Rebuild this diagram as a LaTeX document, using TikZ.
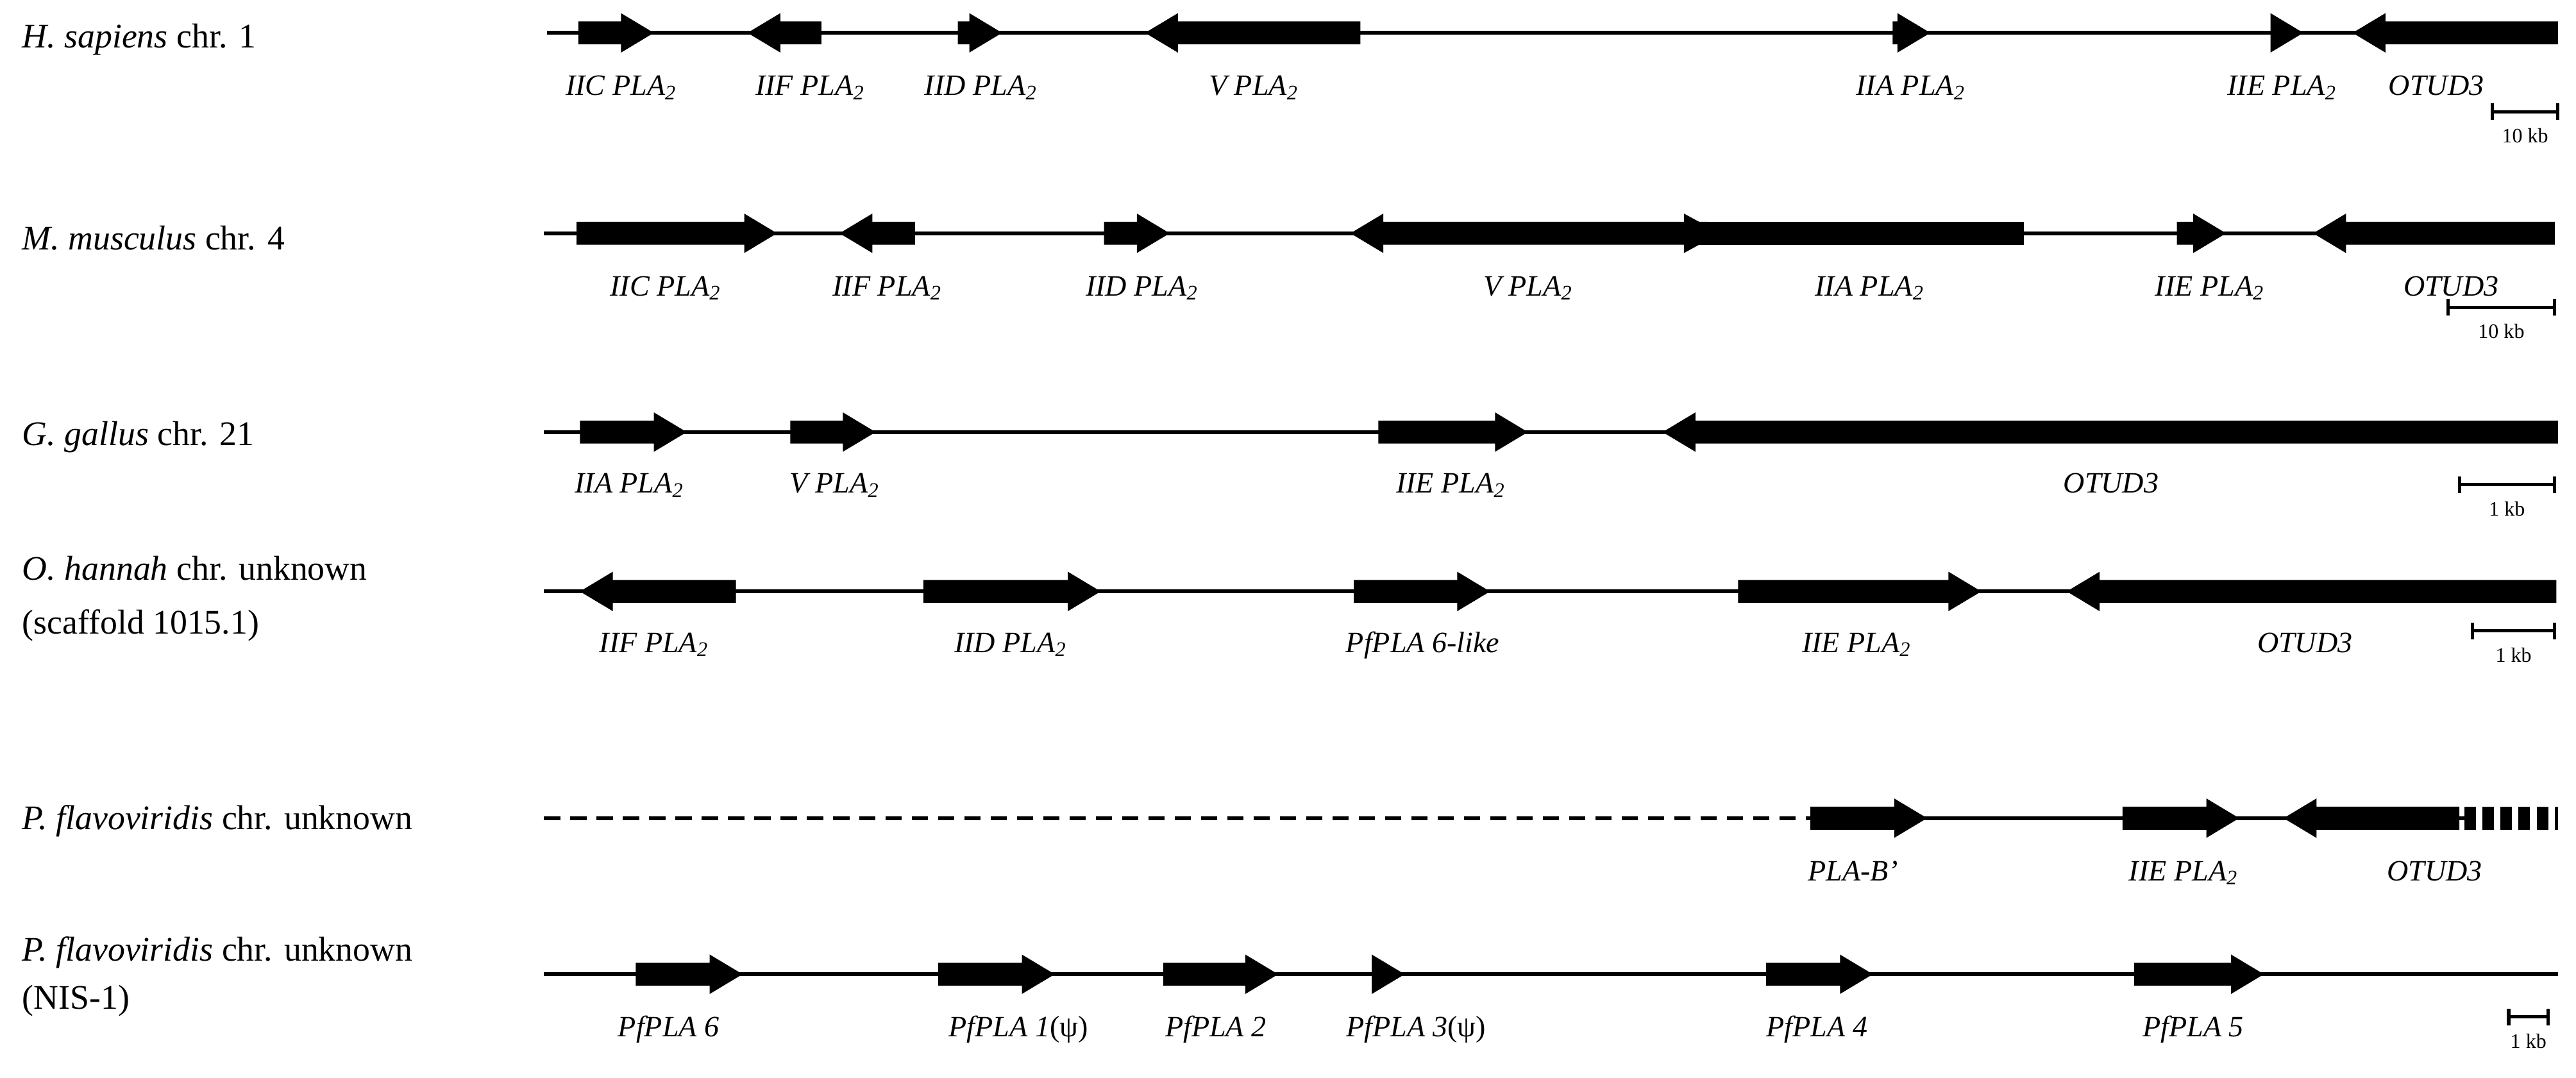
\documentclass[tikz,border=0pt]{standalone}
\usepackage{fontspec}
\setmainfont{Liberation Serif}
\begin{document}
\begin{tikzpicture}[x=1pt,y=-1pt,
  chrom/.style={line width=2.4pt},
  gl/.style={font=\fontsize{18}{19}\selectfont\itshape, anchor=base},
  sp/.style={font=\fontsize{21}{23}\selectfont, anchor=base west},
  sb/.style={font=\fontsize{12.5}{13}\selectfont, anchor=base}]
\useasboundingbox (0,0) rectangle (1568,656);
\newcommand{\gR}[3]{\ifdim\dimexpr#2pt-#1pt\relax>21pt
  \fill (#1,#3-7) -- (#2-20,#3-7) -- (#2-20,#3-12) -- (#2,#3) -- (#2-20,#3+12) -- (#2-20,#3+7) -- (#1,#3+7) -- cycle;
  \else \fill (#1,#3-12) -- (#2,#3) -- (#1,#3+12) -- cycle; \fi}
\newcommand{\gL}[3]{\fill (#2,#3-7) -- (#1+20,#3-7) -- (#1+20,#3-12) -- (#1,#3) -- (#1+20,#3+12) -- (#1+20,#3+7) -- (#2,#3+7) -- cycle;}
\newcommand{\sbar}[4]{\draw[line width=2pt] (#1,#3-5) -- (#1,#3+5) (#1,#3) -- (#2,#3) (#2,#3-5) -- (#2,#3+5);
  \node[sb] at ({(#1+#2)/2},#3+19) {#4};}
\newcommand{\pl}{PLA\textsubscript{2}}
% Row 1
\node[sp] at (10,29) {\textit{H. sapiens} chr. 1};
\draw[chrom] (333,20) -- (1557,20);
\gR{352}{398}{20}\gL{455}{500}{20}\gR{583}{610}{20}\gL{697}{828}{20}\gR{1152}{1175}{20}\gR{1382}{1402}{20}\gL{1432}{1557}{20}
\node[gl] at (378,58) {IIC \pl};\node[gl] at (493,58) {IIF \pl};\node[gl] at (597,58) {IID \pl};
\node[gl] at (763,58) {V \pl};\node[gl] at (1163,58) {IIA \pl};\node[gl] at (1389,58) {IIE \pl};\node[gl] at (1483,58) {OTUD3};
\sbar{1517}{1557}{68}{10 kb}
% Row 2
\node[sp] at (10,152) {\textit{M. musculus} chr. 4};
\draw[chrom] (331,142) -- (1555,142);
\gR{351}{473}{142}\gL{511}{557}{142}\gR{672}{712}{142}\gL{822}{1040}{142}
\fill (1030,135) rectangle (1232,149);
\fill (1025,130) -- (1047,142) -- (1025,154) -- cycle;
\gR{1325}{1355}{142}\gL{1408}{1555}{142}
\node[gl] at (405,180) {IIC \pl};\node[gl] at (540,180) {IIF \pl};\node[gl] at (695,180) {IID \pl};
\node[gl] at (930,180) {V \pl};\node[gl] at (1138,180) {IIA \pl};\node[gl] at (1345,180) {IIE \pl};\node[gl] at (1492,180) {OTUD3};
\sbar{1490}{1555}{187}{10 kb}
% Row 3
\node[sp] at (10,271) {\textit{G. gallus} chr. 21};
\draw[chrom] (331,263) -- (1557,263);
\gR{353}{418}{263}\gR{481}{533}{263}\gR{839}{930}{263}\gL{1012}{1557}{263}
\node[gl] at (383,300) {IIA \pl};\node[gl] at (508,300) {V \pl};\node[gl] at (883,300) {IIE \pl};\node[gl] at (1285,300) {OTUD3};
\sbar{1497}{1555}{295}{1 kb}
% Row 4
\node[sp] at (10,353) {\textit{O. hannah} chr. unknown};
\node[sp] at (10,386) {(scaffold 1015.1)};
\draw[chrom] (331,360) -- (1556,360);
\gL{353}{448}{360}\gR{562}{670}{360}\gR{824}{907}{360}\gR{1058}{1206}{360}\gL{1258}{1556}{360}
\node[gl] at (398,397) {IIF \pl};\node[gl] at (615,397) {IID \pl};\node[gl] at (866,397) {PfPLA 6-like};
\node[gl] at (1130,397) {IIE \pl};\node[gl] at (1403,397) {OTUD3};
\sbar{1505}{1555}{384}{1 kb}
% Row 5
\node[sp] at (10,505) {\textit{P. flavoviridis} chr. unknown};
\draw[chrom, dash pattern=on 10pt off 6pt] (331,498) -- (1100,498);
\draw[chrom] (1100,498) -- (1500,498);
\gR{1102}{1173}{498}\gR{1292}{1363}{498}\gL{1390}{1497}{498}
\draw[line width=14pt, dash pattern=on 7pt off 4pt] (1500,498) -- (1557,498);
\node[gl] at (1128,536) {PLA-B'};\node[gl] at (1329,536) {IIE \pl};\node[gl] at (1482,536) {OTUD3};
% Row 6
\node[sp] at (10,585) {\textit{P. flavoviridis} chr. unknown};
\node[sp] at (10,614) {(NIS-1)};
\draw[chrom] (331,593) -- (1557,593);
\gR{387}{452}{593}\gR{571}{642}{593}\gR{708}{778}{593}\gR{835}{855}{593}\gR{1075}{1140}{593}\gR{1299}{1378}{593}
\node[gl] at (407,631) {PfPLA 6};\node[gl] at (620,631) {PfPLA 1\upshape(ψ)};\node[gl] at (740,631) {PfPLA 2};
\node[gl] at (862,631) {PfPLA 3\upshape(ψ)};\node[gl] at (1106,631) {PfPLA 4};\node[gl] at (1335,631) {PfPLA 5};
\sbar{1527}{1551}{619}{1 kb}
\end{tikzpicture}
\end{document}
